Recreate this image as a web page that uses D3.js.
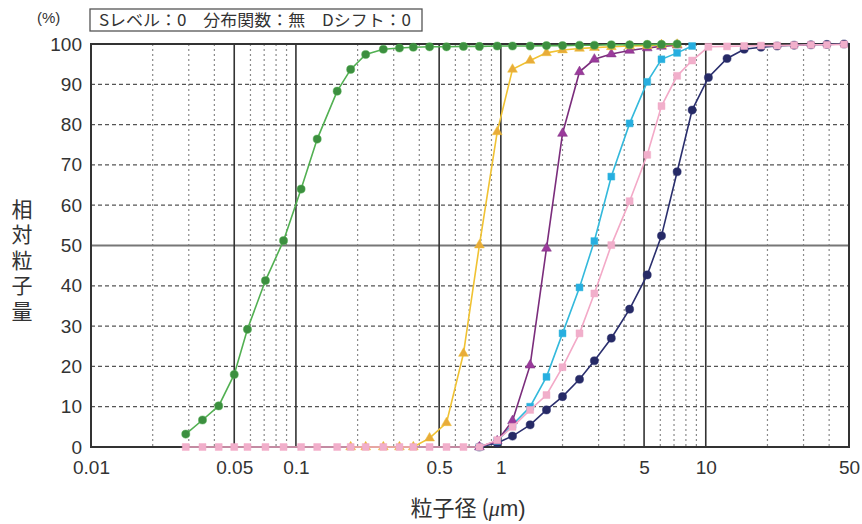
<!DOCTYPE html>
<html><head><meta charset="utf-8">
<script src="https://cdn.jsdelivr.net/npm/d3@7"></script>
<style>
html,body{margin:0;padding:0;background:#fff;}
svg{display:block;}
text{font-family:"Liberation Sans","Noto Sans CJK JP",Arial,sans-serif;fill:#333;}
.jp{font-family:"Noto Sans CJK JP","Liberation Sans",sans-serif;}
</style></head>
<body>
<svg id="chart" width="862" height="524"></svg>
<script>
// ---- data ----
const sizes = [0.029,0.035,0.042,0.050,0.058,0.071,0.087,0.106,0.127,0.159,0.185,0.219,0.267,0.320,0.374,0.449,0.543,0.657,0.786,0.96,1.14,1.39,1.67,2.0,2.42,2.86,3.46,4.25,5.18,6.08,7.25,8.58,10.3,12.7,15.4,18.6,22.3,27.0,32.6,39.0,47.3];
const N = null;
const greenVals  = [3.2,6.7,10.2,18.0,29.2,41.3,51.2,64.0,76.4,88.3,93.7,97.4,98.7,99.0,99.2,99.3,99.3,99.4,99.4,99.5,99.5,99.5,99.6,99.6,99.7,99.7,99.8,99.8,99.9,99.9,100,N,N,N,N,N,N,N,N,N,N];
const yellowVals = [N,N,N,N,N,N,N,N,N,N,0,0,0,0,0,2.2,6.0,23.2,50.1,78.2,93.7,95.9,97.8,98.5,98.9,99.1,99.3,99.5,99.6,99.8,99.9,N,N,N,N,N,N,N,N,N,N];
const purpleVals = [N,N,N,N,N,N,N,N,N,N,N,N,N,N,N,N,N,N,0,1.5,6.5,20.3,49.3,77.8,93.1,96.2,97.5,98.4,99.0,99.4,99.7,N,N,N,N,N,N,N,N,N,N];
const cyanVals   = [N,N,N,N,N,N,N,N,N,N,N,N,N,N,N,N,N,N,0,1.5,5.5,10.0,17.4,28.2,39.6,51.1,67.1,80.3,90.6,96.2,97.8,99.5,N,N,N,N,N,N,N,N,N];
const pinkVals   = [0,0,0,0,0,0,0,0,0,0,0,0,0,0,0,0,0,0,0,1.7,5.0,9.2,12.9,19.8,28.2,38.1,50.1,61.0,72.5,84.6,92.1,95.9,99.3,99.4,99.5,99.6,99.6,99.7,99.8,99.8,99.9];
const navyVals   = [N,N,N,N,N,N,N,N,N,N,N,N,N,N,N,N,N,N,0,1.0,2.7,5.5,9.2,12.5,16.8,21.4,27.0,34.2,42.7,52.4,68.3,83.6,91.7,96.4,98.7,99.2,99.5,99.7,99.8,99.9,100];

const xTickValues = [0.01,0.05,0.1,0.5,1,5,10,50];
const xTickLabels = ["0.01","0.05","0.1","0.5","1","5","10","50"];
const yTickValues = [0,10,20,30,40,50,60,70,80,90,100];
const majorX = [0.05,0.1,0.5,1,5,10];
const minorX = [0.02,0.03,0.04,0.06,0.07,0.08,0.09,0.2,0.3,0.4,0.6,0.7,0.8,0.9,2,3,4,6,7,8,9,20,30,40];
const headerText = "Sレベル：0　分布関数：無　Dシフト：0";
const unitText = "(%)";
const yTitle = "相対粒子量";

// series definitions (draw order)
const series = [
  {vals: navyVals,   line:"#2b2f6e", fill:"#262a66", sym:d3.symbolCircle,   size:52},
  {vals: cyanVals,   line:"#33b9dc", fill:"#27aee0", sym:d3.symbolSquare,   size:48},
  {vals: purpleVals, line:"#7b2d7c", fill:"#9b3a9c", sym:d3.symbolTriangle, size:42},
  {vals: yellowVals, line:"#f0c232", fill:"#e8ac3a", sym:d3.symbolTriangle, size:42},
  {vals: pinkVals,   line:"#f3a9c7", fill:"#f1afcb", sym:d3.symbolSquare,   size:48},
  {vals: greenVals,  line:"#52b052", fill:"#3c8f3f", sym:d3.symbolCircle,   size:52}
];

// ---- chart ----
const svg = d3.select("#chart");
const x = d3.scaleLog().domain([0.01,50]).range([91,849]);
const y = d3.scaleLinear().domain([0,100]).range([447,44]);

const grid = svg.append("g");
grid.selectAll(".vmin").data(minorX).join("line")
  .attr("x1",d=>x(d)).attr("x2",d=>x(d)).attr("y1",y(100)).attr("y2",y(0))
  .attr("stroke","#8a8a8a").attr("stroke-width",1.2).attr("stroke-dasharray","2,3");
grid.selectAll(".hmin").data(yTickValues.filter(v=>v>0&&v<100&&v!==50)).join("line")
  .attr("x1",x(0.01)).attr("x2",x(50)).attr("y1",d=>y(d)).attr("y2",d=>y(d))
  .attr("stroke","#555").attr("stroke-width",1.2).attr("stroke-dasharray","4,3");
grid.append("line").attr("x1",x(0.01)).attr("x2",x(50)).attr("y1",y(50)).attr("y2",y(50))
  .attr("stroke","#777").attr("stroke-width",2);
grid.selectAll(".vmaj").data(majorX).join("line")
  .attr("x1",d=>x(d)).attr("x2",d=>x(d)).attr("y1",y(100)).attr("y2",y(0))
  .attr("stroke","#333").attr("stroke-width",1.6);
svg.append("rect").attr("x",x(0.01)).attr("y",y(100)).attr("width",x(50)-x(0.01)).attr("height",y(0)-y(100))
  .attr("fill","none").attr("stroke","#333").attr("stroke-width",2);

// axes
const xAxis = d3.axisBottom(x).tickValues(xTickValues).tickFormat((d,i)=>xTickLabels[i]).tickSize(0).tickPadding(14);
const gx = svg.append("g").attr("transform",`translate(0,${y(0)})`).call(xAxis);
gx.select(".domain").remove();
gx.selectAll("text").attr("font-size",19).attr("fill","#333").attr("font-family","Liberation Sans, Arial, sans-serif");

const yAxis = d3.axisLeft(y).tickValues(yTickValues).tickSize(0).tickPadding(9);
const gy = svg.append("g").attr("transform",`translate(${x(0.01)},0)`).call(yAxis);
gy.select(".domain").remove();
gy.selectAll("text").attr("font-size",19).attr("fill","#333").attr("font-family","Liberation Sans, Arial, sans-serif");

// series
const line = d3.line().defined(d=>d.v!=null).x(d=>x(d.s)).y(d=>y(d.v));
series.forEach(s=>{
  const pts = sizes.map((sz,i)=>({s:sz,v:s.vals[i]}));
  const g = svg.append("g");
  g.append("path").datum(pts).attr("d",line).attr("fill","none")
    .attr("stroke",s.line).attr("stroke-width",1.6);
  g.selectAll("path.m").data(pts.filter(d=>d.v!=null)).join("path").attr("class","m")
    .attr("transform",d=>`translate(${x(d.s)},${y(d.v)})`)
    .attr("d",d3.symbol().type(s.sym).size(s.size))
    .attr("fill",s.fill).attr("stroke",s.line).attr("stroke-width",0.8).attr("stroke-opacity",0.6);
});

// header
svg.append("text").attr("x",37).attr("y",23).attr("font-size",15).attr("fill","#444").text(unitText);
svg.append("rect").attr("x",90).attr("y",9).attr("width",332).attr("height",22)
  .attr("fill","#fff").attr("stroke","#555").attr("stroke-width",1.3);
svg.append("text").attr("class","jp").attr("x",99).attr("y",26).attr("font-size",16)
  .attr("textLength",312).attr("lengthAdjust","spacingAndGlyphs").attr("fill","#333").text(headerText);

// y title (vertical)
svg.append("text").attr("class","jp")
  .attr("x",22).attr("y",262).attr("text-anchor","middle")
  .style("writing-mode","vertical-rl").style("letter-spacing","4.5px")
  .attr("font-size",21).attr("fill","#333").text(yTitle);

// x title
const xt = svg.append("text").attr("class","jp").attr("x",468).attr("y",516).attr("text-anchor","middle")
  .attr("font-size",22).attr("fill","#333");
xt.append("tspan").text("粒子径 (");
xt.append("tspan").attr("font-style","italic").attr("font-family","Liberation Serif, serif").text("μ");
xt.append("tspan").attr("font-family","Liberation Sans, Arial, sans-serif").text("m)");
</script>
</body></html>
